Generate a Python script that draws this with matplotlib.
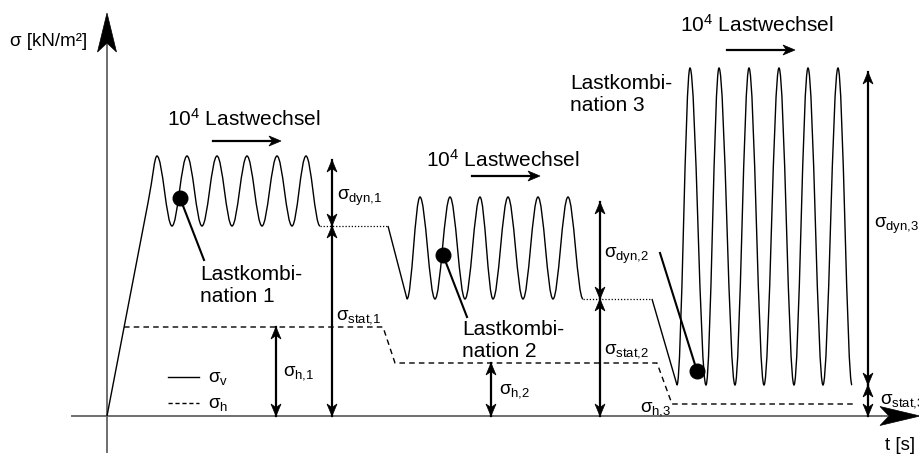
import matplotlib.pyplot as plt
from matplotlib.path import Path
from matplotlib.patches import PathPatch, Polygon

plt.rcParams['font.family'] = 'Liberation Sans'
plt.rcParams['mathtext.fontset'] = 'custom'
plt.rcParams['mathtext.rm'] = 'Liberation Sans'
plt.rcParams['mathtext.it'] = 'Liberation Sans'
plt.rcParams['mathtext.bf'] = 'Liberation Sans:bold'

# Lastkombination 1: Zeitpunkte der Hoch-/Tiefpunkte und Spannungsniveaus
t_max_1 = [5.0, 8.0, 11.0, 14.0, 17.0, 19.9]
t_min_1 = [6.5, 9.5, 12.5, 15.5, 18.5, 21.3]
s_max_1, s_min_1 = 26.0, 19.0

# Lastkombination 2
t_min_2 = [30.0, 32.8, 35.8, 38.6, 41.6, 44.6, 47.6]
t_max_2 = [31.3, 34.3, 37.3, 40.1, 43.1, 46.1]
s_max_2, s_min_2 = 21.9, 11.7

# Lastkombination 3
t_min_3 = [57.0, 59.9, 62.8, 65.7, 68.7, 71.6, 74.5]
t_max_3 = [58.3, 61.2, 64.2, 67.2, 70.1, 73.1]
s_max_3, s_min_3 = 34.8, 3.1

# Übergänge (Haltephasen, punktiert)
t_halt_1 = [21.3, 28.1]
t_halt_2 = [47.6, 54.5]

# Horizontalspannung sigma_h
t_h = [1.7, 27.6, 28.8, 55.0, 56.5, 74.6]
s_h = [8.9, 8.9, 5.3, 5.3, 1.2, 1.2]

# Bemaßungspfeile: (t, von, bis)
t_dyn = [22.5, 49.3, 76.1]
s_dyn_oben = [25.6, 21.4, 34.4]
t_h_pfeil = [16.9, 38.4]

k = 0.36  # Kontrollpunktabstand für die Halbwellen


def halbwellen(punkte):
    verts, codes = [], []
    for (x0, y0), (x1, y1) in zip(punkte[:-1], punkte[1:]):
        d = x1 - x0
        verts += [(x0 + k * d, y0), (x1 - k * d, y1), (x1, y1)]
        codes += [Path.CURVE4] * 3
    return verts, codes


def abwechselnd(t_a, s_a, t_b, s_b):
    pkt = []
    for i in range(max(len(t_a), len(t_b))):
        if i < len(t_a):
            pkt.append((t_a[i], s_a))
        if i < len(t_b):
            pkt.append((t_b[i], s_b))
    return pkt


def pfeilspitze(ax, x, y, dx, dy, l=1.2, b=0.5, kerbe=0.35):
    # Spitze bei (x, y), Richtung (dx, dy) als Einheitsvektor
    nx, ny = -dy, dx
    bx, by = x - l * dx, y - l * dy
    pts = [(x, y), (bx + b * nx, by + b * ny), (x - (l - kerbe) * dx, y - (l - kerbe) * dy),
           (bx - b * nx, by - b * ny)]
    ax.add_patch(Polygon(pts, closed=True, fc='black', ec='black', lw=0.5, zorder=5))


def masspfeil(ax, x, y0, y1, beide=True):
    ax.plot([x, x], [y0, y1], color='black', lw=1.6, zorder=4)
    pfeilspitze(ax, x, y1, 0, 1 if y1 > y0 else -1)
    if beide:
        pfeilspitze(ax, x, y0, 0, -1 if y1 > y0 else 1)


def waagpfeil(ax, x0, x1, y):
    ax.plot([x0, x1 - 0.5], [y, y], color='black', lw=1.6)
    pfeilspitze(ax, x1, y, 1, 0)


def sigma(index):
    return r'$\sigma_{\mathrm{' + index.replace(',', '{,}') + '}}$'


fig = plt.figure(figsize=(9.2, 4.57), dpi=100)
ax = fig.add_axes([0, 0, 1, 1])
ax.set_xlim(-10.7, 81.3)
ax.set_ylim(-4.1, 41.6)
ax.axis('off')

# Achsen
grau = '#6e6e6e'
ax.plot([-3.5, 78.0], [0, 0], color=grau, lw=1.4, zorder=1)
ax.plot([0, 0], [-3.6, 37.5], color=grau, lw=1.4, zorder=1)
ax.add_patch(Polygon([(0, 40.3), (0.95, 36.4), (0, 37.3), (-0.95, 36.4)], fc='black', ec='black', lw=0.5))
ax.add_patch(Polygon([(81.3, 0), (77.3, 0.95), (78.2, 0), (77.3, -0.95)], fc='black', ec='black', lw=0.5))

# sigma_v: Lastkombination 1 inkl. Belastungsrampe
tp, sp = t_max_1[0], s_max_1
verts = [(0, 0), (0.82 * tp, 0.82 * sp), (0.92 * tp, 0.92 * sp), (tp - 0.25, sp), (tp, sp)]
codes = [Path.MOVETO, Path.LINETO, Path.CURVE4, Path.CURVE4, Path.CURVE4]
v, c = halbwellen(abwechselnd(t_max_1, s_max_1, t_min_1, s_min_1))
verts += v
codes += c
ax.add_patch(PathPatch(Path(verts, codes), fc='none', ec='black', lw=1.0))

# Lastkombination 2 und 3
for t_h0, s0, t_lo, t_hi, s_hi, s_lo in [(t_halt_1[1], s_min_1, t_min_2, t_max_2, s_max_2, s_min_2),
                                         (t_halt_2[1], s_min_2, t_min_3, t_max_3, s_max_3, s_min_3)]:
    verts = [(t_h0, s0), (t_lo[0], s_lo)]
    codes = [Path.MOVETO, Path.LINETO]
    v, c = halbwellen(abwechselnd(t_lo, s_lo, t_hi, s_hi))
    verts += v
    codes += c
    ax.add_patch(PathPatch(Path(verts, codes), fc='none', ec='black', lw=1.0))

# Haltephasen
ax.plot(t_halt_1, [s_min_1, s_min_1], color='black', lw=0.9, ls=(0, (1, 1.5)))
ax.plot(t_halt_2, [s_min_2, s_min_2], color='black', lw=0.9, ls=(0, (1, 1.5)))

# sigma_h
ax.plot(t_h, s_h, color='black', lw=1.0, ls=(0, (4, 3)))

# Bemaßung
masspfeil(ax, t_dyn[0], s_min_1, s_dyn_oben[0])
masspfeil(ax, t_dyn[0], s_min_1, 0)
masspfeil(ax, t_dyn[1], s_min_2, s_dyn_oben[1])
masspfeil(ax, t_dyn[1], s_min_2, 0)
masspfeil(ax, t_dyn[2], s_min_3, s_dyn_oben[2])
masspfeil(ax, t_dyn[2], s_min_3, 0)
masspfeil(ax, t_h_pfeil[0], 0, s_h[0])
masspfeil(ax, t_h_pfeil[1], 0, s_h[2])

# Lastwechsel
fs = 15
for x0, x1, y, tx, ty in [(10.6, 17.4, 27.5, 6.0, 29.0), (36.5, 43.3, 24.0, 31.9, 24.9),
                          (62.0, 68.8, 36.6, 57.3, 38.4)]:
    waagpfeil(ax, x0, x1, y)
    ax.text(tx, ty, r'$\mathregular{10^4}$ Lastwechsel', fontsize=fs, va='baseline')

# Lastkombinationen mit Hinweislinien
for (px, py), (lx, ly), (tx, ty), n in [((7.3, 21.8), (9.7, 15.6), (9.3, 13.6), 1),
                                        ((33.6, 16.1), (36.0, 9.9), (35.5, 8.1), 2),
                                        ((59.0, 4.5), (55.3, 16.3), (46.3, 32.7), 3)]:
    ax.plot([px, lx], [py, ly], color='black', lw=1.5, zorder=6)
    ax.plot(px, py, 'o', color='black', ms=10.5, zorder=7)
    ax.text(tx, ty, 'Lastkombi-', fontsize=fs, va='baseline')
    ax.text(tx, ty - 2.2, f'nation {n}', fontsize=fs, va='baseline')

# Beschriftungen sigma
fsg = 13.5
for x, y, s in [(23.0, 21.6, 'dyn,1'), (22.9, 9.6, 'stat,1'), (17.6, 4.1, 'h,1'), (39.2, 2.3, 'h,2'),
                (49.7, 15.8, 'dyn,2'), (49.7, 6.3, 'stat,2'), (53.3, 0.4, 'h,3'),
                (77.3, 1.3, 'stat,3'), (76.7, 18.8, 'dyn,3')]:
    ax.text(x, y, sigma(s), fontsize=fsg, va='baseline')

# Legende
ax.plot([6.1, 9.2], [3.9, 3.9], color='black', lw=1.0)
ax.plot([6.1, 9.2], [1.3, 1.3], color='black', lw=1.0, ls=(0, (3, 2)))
ax.text(10.1, 3.4, sigma('v'), fontsize=fsg, va='baseline')
ax.text(10.1, 0.8, sigma('h'), fontsize=fsg, va='baseline')

# Achsenbeschriftung
ax.text(-9.7, 37.4, 'σ [kN/m²]', fontsize=fs - 1.5, va='center')
ax.text(77.8, -2.9, 't [s]', fontsize=fs - 1.5, va='center')

fig.savefig('out.png', dpi=100)
